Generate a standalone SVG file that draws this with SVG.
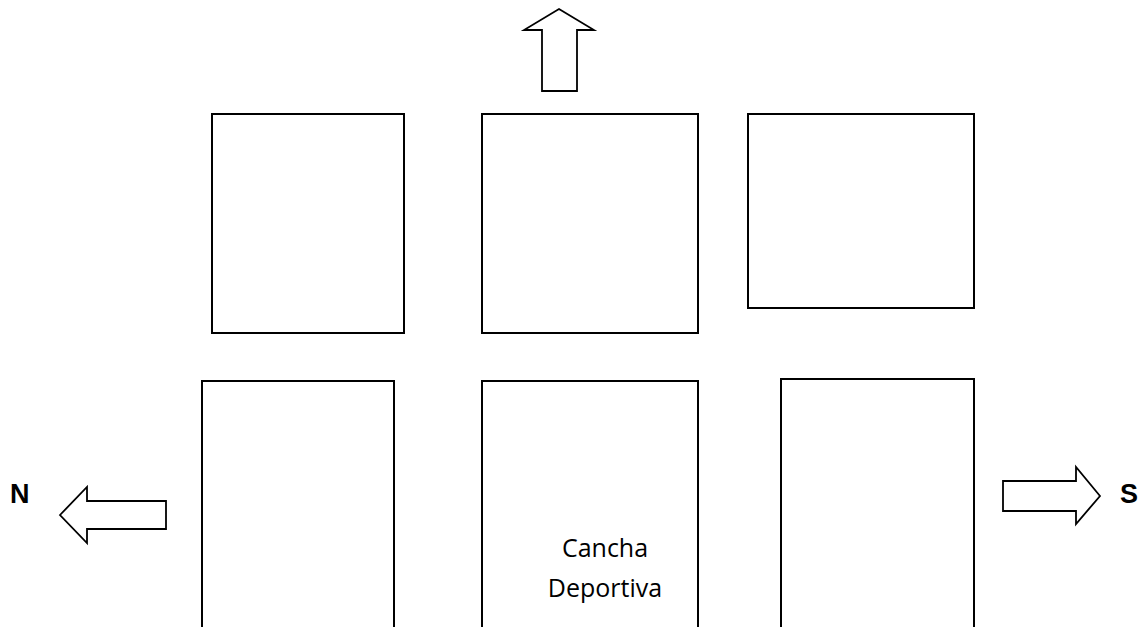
<svg xmlns="http://www.w3.org/2000/svg" width="1148" height="627" viewBox="0 0 1148 627">
<style>
.box{fill:#fff;stroke:#000;stroke-width:2}
.arr{fill:#fff;stroke:#000;stroke-width:1.8;stroke-linejoin:miter}
.lbl{font-family:"Liberation Sans",Arial,sans-serif;font-weight:bold;font-size:27px;fill:#000}
.txt{font-family:"Open Sans","Liberation Sans",sans-serif;font-size:25px;fill:#000;text-anchor:middle}
</style>
<rect width="1148" height="627" fill="#fff"/>
<g id="box1"><rect class="box" x="212" y="114" width="192" height="219"/></g>
<g id="box2"><rect class="box" x="482" y="114" width="216" height="219"/></g>
<g id="box3"><rect class="box" x="748" y="114" width="226" height="194"/></g>
<g id="box4"><rect class="box" x="202" y="381" width="192" height="260"/></g>
<g id="box5"><rect class="box" x="482" y="381" width="216" height="260"/>
<text class="txt" x="605" y="557">Cancha</text>
<text class="txt" x="605" y="597">Deportiva</text></g>
<g id="box6"><rect class="box" x="781" y="379" width="193" height="262"/></g>
<g id="connectors">
<polygon class="arr" points="559,9 594,30 577,30 577,91 542,91 542,30 524,30"/>
<polygon class="arr" points="60,515 87,487 87,501 166,501 166,529 87,529 87,543"/>
<polygon class="arr" points="1100,496 1076,467 1076,481 1003,481 1003,511 1076,511 1076,524"/>
</g>
<g id="labels">
<text class="lbl" x="10" y="503">N</text>
<text class="lbl" x="1120" y="503">S</text>
</g>
</svg>
